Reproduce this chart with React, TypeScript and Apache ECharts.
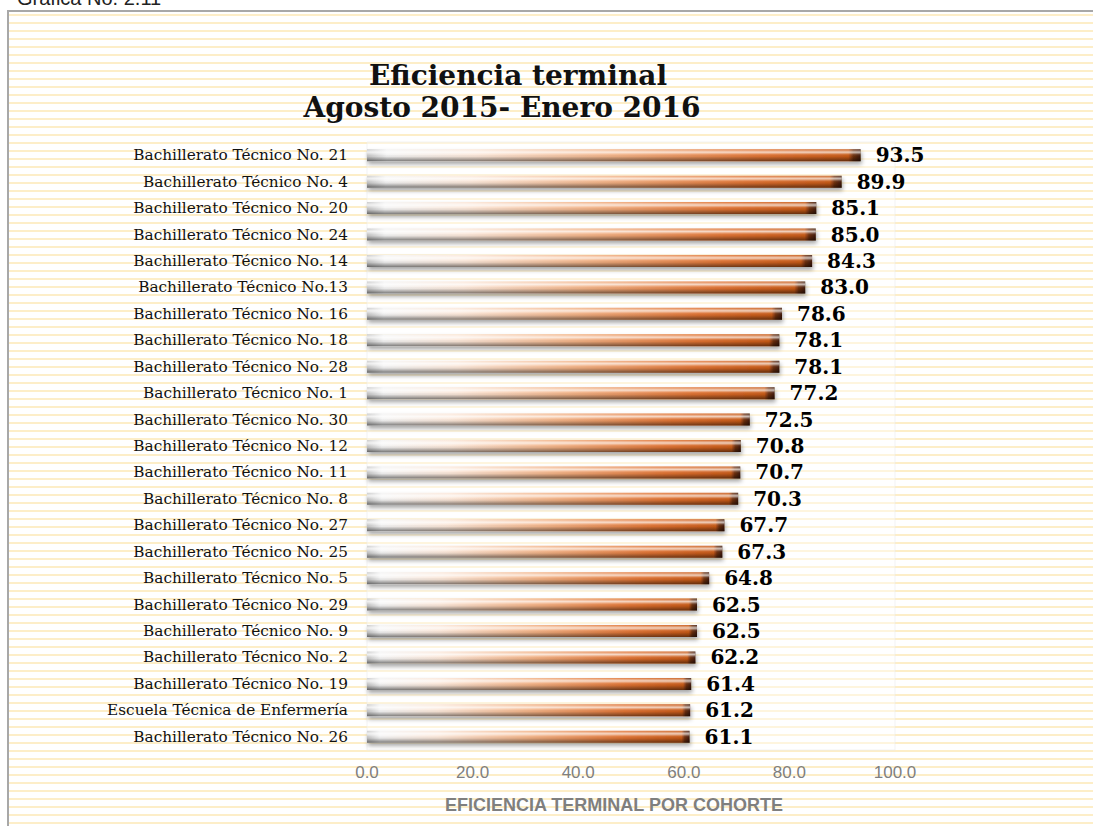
import React, { useEffect, useRef } from "react";
import * as echarts from "echarts";

const categories: string[] = [
  "Bachillerato Técnico No. 21",
  "Bachillerato Técnico No. 4",
  "Bachillerato Técnico No. 20",
  "Bachillerato Técnico No. 24",
  "Bachillerato Técnico No. 14",
  "Bachillerato Técnico No.13",
  "Bachillerato Técnico No. 16",
  "Bachillerato Técnico No. 18",
  "Bachillerato Técnico No. 28",
  "Bachillerato Técnico No. 1",
  "Bachillerato Técnico No. 30",
  "Bachillerato Técnico No. 12",
  "Bachillerato Técnico No. 11",
  "Bachillerato Técnico No. 8",
  "Bachillerato Técnico No. 27",
  "Bachillerato Técnico No. 25",
  "Bachillerato Técnico No. 5",
  "Bachillerato Técnico No. 29",
  "Bachillerato Técnico No. 9",
  "Bachillerato Técnico No. 2",
  "Bachillerato Técnico No. 19",
  "Escuela Técnica de Enfermería",
  "Bachillerato Técnico No. 26",
];

const values: number[] = [
  93.5, 89.9, 85.1, 85.0, 84.3, 83.0, 78.6, 78.1, 78.1, 77.2, 72.5, 70.8,
  70.7, 70.3, 67.7, 67.3, 64.8, 62.5, 62.5, 62.2, 61.4, 61.2, 61.1,
];

const titleLines: string[] = ["Eficiencia terminal", "Agosto 2015- Enero 2016"];
const caption = "Gráfica No. 2.11";
const axisTitle = "EFICIENCIA TERMINAL POR COHORTE";

export default function App() {
  const ref = useRef<HTMLDivElement>(null);

  useEffect(() => {
    if (!ref.current) return;
    const chart = echarts.init(ref.current, undefined, { renderer: "svg" });

    const barGradient = new echarts.graphic.LinearGradient(0, 0, 1, 0, [
      { offset: 0, color: "#c8c8c8" },
      { offset: 0.04, color: "#f4f4f4" },
      { offset: 0.22, color: "#fbe7d9" },
      { offset: 0.5, color: "#f2b286" },
      { offset: 0.8, color: "#df7232" },
      { offset: 0.975, color: "#c85a18" },
      { offset: 0.985, color: "#6e3010" },
      { offset: 1, color: "#401a06" },
    ]);
    const shade = new echarts.graphic.LinearGradient(0, 0, 0, 1, [
      { offset: 0, color: "rgba(255,255,255,0.05)" },
      { offset: 0.25, color: "rgba(255,255,255,0.7)" },
      { offset: 0.45, color: "rgba(255,255,255,0.1)" },
      { offset: 0.6, color: "rgba(0,0,0,0.05)" },
      { offset: 1, color: "rgba(0,0,0,0.5)" },
    ]);

    chart.setOption({
      animation: false,
      backgroundColor: "transparent",
      grid: {
        left: 367,
        right: 198,
        top: 142,
        bottom: 76,
        show: true,
        backgroundColor: "rgba(255,255,255,0.4)",
        borderColor: "rgba(235,235,235,0.6)",
        borderWidth: 1,
      },
      xAxis: {
        type: "value",
        min: 0,
        max: 100,
        interval: 20,
        axisLine: { show: false },
        axisTick: { show: false },
        splitLine: { show: false },
        axisLabel: {
          margin: 14,
          color: "#7f7f7f",
          fontFamily: "Liberation Sans",
          fontSize: 17,
          formatter: (v: number) => v.toFixed(1),
        },
        name: axisTitle,
        nameLocation: "middle",
        nameGap: 46,
        nameTextStyle: {
          color: "#7f7f7f",
          fontFamily: "Liberation Sans",
          fontWeight: "bold",
          fontSize: 18,
          padding: [0, 34, 0, 0],
        },
      },
      yAxis: {
        type: "category",
        data: categories,
        inverse: true,
        axisLine: { show: false },
        axisTick: { show: false },
        splitLine: { show: false },
        axisLabel: {
          margin: 19,
          color: "#111",
          fontFamily: "DejaVu Serif",
          fontSize: 15.3,
        },
      },
      series: [
        {
          type: "bar",
          data: values,
          barWidth: 12,
          itemStyle: {
            color: barGradient,
            shadowColor: "rgba(0,0,0,0.35)",
            shadowBlur: 4,
            shadowOffsetX: 1,
            shadowOffsetY: 3,
          },
          silent: true,
        },
        {
          type: "bar",
          data: values,
          barWidth: 12,
          barGap: "-100%",
          itemStyle: { color: shade },
          silent: true,
          label: {
            show: true,
            position: "right",
            distance: 15,
            color: "#000",
            fontFamily: "DejaVu Serif",
            fontWeight: "bold",
            fontSize: 20,
            formatter: (p: any) => Number(p.value).toFixed(1),
          },
        },
      ],
      graphic: [
        {
          type: "text",
          x: 17,
          y: 8,
          style: {
            text: caption,
            fill: "#222",
            font: "20px 'Liberation Sans'",
            verticalAlign: "bottom",
          },
        },
        {
          type: "text",
          x: 518,
          y: 75,
          style: {
            text: titleLines[0],
            fill: "#111",
            font: "bold 28px 'DejaVu Serif'",
            align: "center",
            verticalAlign: "middle",
            shadowColor: "rgba(0,0,0,0.45)",
            shadowBlur: 3,
            shadowOffsetX: 2,
            shadowOffsetY: 2,
          },
        },
        {
          type: "text",
          x: 502,
          y: 107,
          style: {
            text: titleLines[1],
            fill: "#111",
            font: "bold 28px 'DejaVu Serif'",
            align: "center",
            verticalAlign: "middle",
            shadowColor: "rgba(0,0,0,0.45)",
            shadowBlur: 3,
            shadowOffsetX: 2,
            shadowOffsetY: 2,
          },
        },
      ],
    });

    return () => chart.dispose();
  }, []);

  return (
    <div
      style={{
        position: "fixed",
        left: 0,
        top: 0,
        width: 1093,
        height: 826,
        background: "#fff",
      }}
    >
      <div
        style={{
          position: "absolute",
          left: 7,
          top: 10,
          right: 0,
          bottom: 0,
          borderLeft: "2px solid #a8a8a8",
          borderTop: "2px solid #a8a8a8",
          backgroundImage:
            "repeating-linear-gradient(to bottom, #ffffff 0px, #ffffff 2px, #fdeec8 2px, #fdeec8 4.5px, #ffffff 4.5px, #ffffff 8px)",
        }}
      />
      <div
        ref={ref}
        style={{ position: "absolute", left: 0, top: 0, width: 1093, height: 826 }}
      />
    </div>
  );
}
